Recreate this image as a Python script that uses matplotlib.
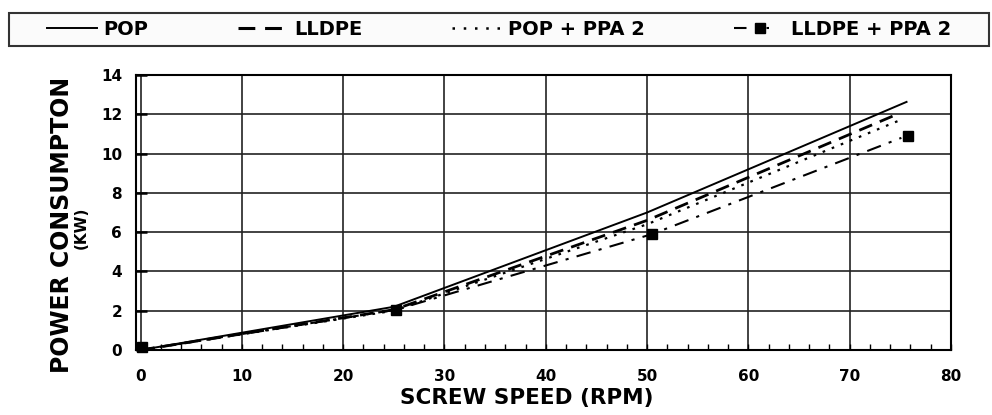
import numpy as np
import matplotlib.pyplot as plt
from matplotlib.lines import Line2D
from matplotlib.patches import Rectangle

plt.rcParams['font.family'] = 'DejaVu Sans'
plt.rcParams['font.weight'] = 'bold'

# values (screw speed in rpm, power in kW)
pop_x = [0, 25, 50, 75.7]
pop_y = [0, 2.2, 7.0, 12.65]
lldpe_x = [0, 25, 50, 74.9]
lldpe_y = [0, 2.05, 6.6, 12.05]
pop_ppa_x = [0, 25, 50, 75.2]
pop_ppa_y = [0, 2.0, 6.4, 11.75]
lldpe_ppa_x = [0, 25.2, 50.5, 75.1]
lldpe_ppa_y = [0, 2.05, 5.9, 10.8]
lldpe_ppa_pts_x = [0.15, 25.2, 50.5, 75.8]
lldpe_ppa_pts_y = [0.15, 2.05, 5.9, 10.9]

labels = ["POP", "LLDPE", "POP + PPA 2", "LLDPE + PPA 2"]

fig = plt.figure(figsize=(9.92, 4.15), dpi=100)
ax = fig.add_axes([136/992, 1-350/415, 815/992, 275/415])

ax.plot(pop_x, pop_y, color='black', lw=1.4, solid_capstyle='butt')
ax.plot(lldpe_x, lldpe_y, color='black', lw=2.0, dashes=(5, 3))
ax.plot(pop_ppa_x, pop_ppa_y, color='black', lw=1.6, dashes=(1.2, 3.2))
ax.plot(lldpe_ppa_x, lldpe_ppa_y, color='black', lw=1.5, dashes=(7, 4, 1.5, 4))
ax.plot(lldpe_ppa_pts_x, lldpe_ppa_pts_y, ls='none', marker='s', ms=7.5,
        color='black', clip_on=False)

ax.set_xlim(-0.45, 80)
ax.set_ylim(0, 14)
ax.set_xticks(range(0, 81, 10))
ax.set_xticks(np.arange(0, 81, 2), minor=True)
ax.set_yticks(range(0, 15, 2))
ax.grid(True, which='major', color='#222222', lw=1.2)
ax.set_axisbelow(True)
ax.tick_params(axis='x', which='both', direction='in', length=4, width=1,
               pad=14, labelsize=11)
ax.tick_params(axis='y', direction='in', length=8, width=1.8, pad=10,
               labelsize=11)
for s in ax.spines.values():
    s.set_linewidth(1.5)
    s.set_color('black')

fig.text(527/992, 1-398/415, "SCREW SPEED (RPM)", ha='center', va='center',
         fontsize=15.5, weight='bold')
fig.text(62.5/992, 1-225/415, "POWER CONSUMPTON", rotation=90, ha='center',
         va='center', fontsize=17, weight='bold')
fig.text(81/992, 1-228/415, "(KW)", rotation=90, ha='center', va='center',
         fontsize=11, weight='bold')

# legend box across the top
fig.add_artist(Rectangle((9/992, 1-46/415), 980/992, 33/415,
                         transform=fig.transFigure, facecolor='#fbfbfb',
                         edgecolor='#333333', lw=1.5, zorder=0))
handles = [
    Line2D([], [], color='black', lw=1.4),
    Line2D([], [], color='black', lw=2.2, dashes=(5.5, 3.2)),
    Line2D([], [], color='black', lw=1.8, dashes=(1, 3.5)),
    Line2D([], [], color='black', lw=1.5, dashes=(6, 9.6, 1.2, 20),
           marker='s', ms=7),
]
fig.legend(handles, labels, loc='center', bbox_to_anchor=(499/992, 1-29.5/415),
           ncol=4, frameon=False, prop={'size': 14, 'weight': 'bold'},
           handlelength=2.6, handletextpad=0.3, columnspacing=4.6, numpoints=1)

fig.savefig("out.png", dpi=100)
